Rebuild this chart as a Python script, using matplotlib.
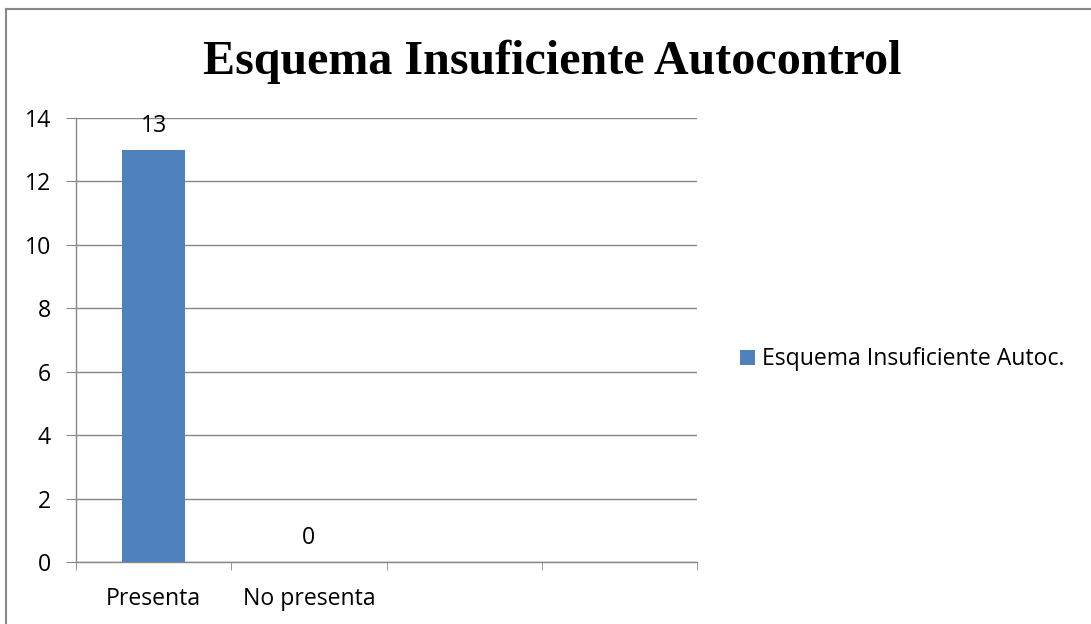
import matplotlib
matplotlib.use("Agg")
import matplotlib.pyplot as plt
from matplotlib.lines import Line2D
from matplotlib.patches import Patch

categories = ["Presenta", "No presenta", "", ""]
values = [13, 0]
series_name = "Esquema Insuficiente Autoc."
title = "Esquema Insuficiente Autocontrol"
yticks = [0, 2, 4, 6, 8, 10, 12, 14]

bar_color = "#4F81BD"
grid_color = "#878787"
text_font = ["Open Sans", "DejaVu Sans"]
text_size = 16.6

fig = plt.figure(figsize=(10.91, 6.24), dpi=100)
ax = fig.add_axes([0.0697, 0.0994, 0.5692, 0.7115])

x = list(range(len(categories)))
ax.bar(x[:len(values)], values, width=0.41, color=bar_color, zorder=3)
for xi, v in zip(x, values):
    ax.annotate(str(v), (xi, v), xytext=(0, 8.5), textcoords="offset points",
                ha="center", va="bottom", fontsize=text_size, family=text_font)

ax.set_xlim(-0.5, len(categories) - 0.5)
ax.set_ylim(0, 14)
ax.set_yticks(yticks)
ax.set_yticklabels([str(t) for t in yticks], fontsize=text_size, family=text_font)
ax.yaxis.grid(True, color=grid_color, linewidth=1.0, zorder=0)
ax.set_axisbelow(True)

ax.set_xticks(x)
ax.set_xticklabels(categories, fontsize=text_size, family=text_font)
ax.tick_params(axis="x", which="major", length=0, pad=18)
ax.set_xticks([i - 0.5 for i in range(len(categories) + 1)], minor=True)
ax.tick_params(axis="x", which="minor", length=6, color=grid_color, direction="out")
ax.tick_params(axis="y", length=7, color=grid_color, direction="out", pad=11)

for side in ("top", "right"):
    ax.spines[side].set_visible(False)
for side in ("left", "bottom"):
    ax.spines[side].set_color(grid_color)
    ax.spines[side].set_linewidth(1.0)

fig.text(0.506, 0.882, title, ha="center", va="baseline", fontsize=34.6,
         fontweight="bold", family="Liberation Serif")

handle = Patch(facecolor=bar_color, edgecolor="none")
fig.legend([handle], [series_name], loc="center left",
           bbox_to_anchor=(0.678, 0.424), frameon=False,
           prop={"family": text_font, "size": text_size},
           borderpad=0, borderaxespad=0,
           handlelength=0.66, handleheight=0.66, handletextpad=0.3)

# outer frame (top and left edges)
fig.add_artist(Line2D([0.0055, 1.0], [0.985, 0.985], color="#888888", linewidth=1.5,
                      transform=fig.transFigure))
fig.add_artist(Line2D([0.0055, 0.0055], [0.0, 0.985], color="#888888", linewidth=1.5,
                      transform=fig.transFigure))

fig.savefig("out.png", dpi=100, facecolor="white")
